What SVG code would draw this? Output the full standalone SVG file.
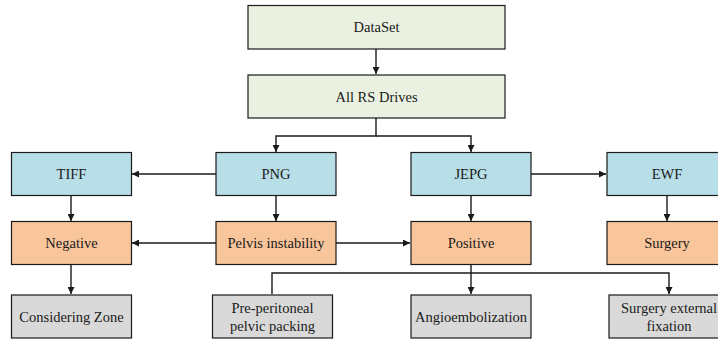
<svg xmlns="http://www.w3.org/2000/svg" width="718" height="341" viewBox="0 0 718 341">
<style>
.b{stroke:#1a1a1a;stroke-width:1.2}
.g{fill:#eaf1e0}.bl{fill:#b8dee8}.o{fill:#f9c69c}.gr{fill:#d9d9d9}
text{font-family:'Liberation Serif','Times New Roman','DejaVu Serif',serif;font-size:14.5px;fill:#1a1a1a;text-anchor:middle;dominant-baseline:central}
.c{fill:none;stroke:#1a1a1a;stroke-width:1.4}
</style>
<defs>
<marker id="a" viewBox="0 0 10 10" refX="10" refY="5" markerWidth="7" markerHeight="7" markerUnits="userSpaceOnUse" orient="auto">
<path d="M0,0L10,5L0,10z" fill="#1a1a1a"/>
</marker>
</defs>
<rect width="718" height="341" fill="#fff"/>
<g id="connectors">
<path class="c" d="M376,49V74" marker-end="url(#a)"/>
<path class="c" d="M376,118V136H276V152" marker-end="url(#a)"/>
<path class="c" d="M376,136H471V152" marker-end="url(#a)"/>
<path class="c" d="M216,174H132" marker-end="url(#a)"/>
<path class="c" d="M531,174H606" marker-end="url(#a)"/>
<path class="c" d="M71,195V221" marker-end="url(#a)"/>
<path class="c" d="M276,195V221" marker-end="url(#a)"/>
<path class="c" d="M471,195V221" marker-end="url(#a)"/>
<path class="c" d="M667,195V221" marker-end="url(#a)"/>
<path class="c" d="M216,243H132" marker-end="url(#a)"/>
<path class="c" d="M336,243H410" marker-end="url(#a)"/>
<path class="c" d="M71,264V294" marker-end="url(#a)"/>
<path class="c" d="M471,264V294" marker-end="url(#a)"/>
<path class="c" d="M272,294V273H669V294" marker-end="url(#a)"/>
</g>
<g font-family="Liberation Serif, serif">
<g id="dataset"><rect class="b g" x="248" y="5.5" width="257" height="43.5"/><text x="376.5" y="27">DataSet</text></g>
<g id="drives"><rect class="b g" x="248" y="75" width="257" height="43"/><text x="376.5" y="96.5">All RS Drives</text></g>
<g id="tiff"><rect class="b bl" x="11.5" y="152.5" width="120" height="43"/><text x="71.5" y="174">TIFF</text></g>
<g id="png"><rect class="b bl" x="216" y="152.5" width="120" height="43"/><text x="276" y="174">PNG</text></g>
<g id="jepg"><rect class="b bl" x="411" y="152.5" width="120" height="43"/><text x="471" y="174">JEPG</text></g>
<g id="ewf"><rect class="b bl" x="607" y="152.5" width="120" height="43"/><text x="667" y="174">EWF</text></g>
<g id="negative"><rect class="b o" x="11.5" y="221.5" width="120" height="43"/><text x="71.5" y="243">Negative</text></g>
<g id="pelvis"><rect class="b o" x="216" y="221.5" width="120" height="43"/><text x="276" y="243">Pelvis instability</text></g>
<g id="positive"><rect class="b o" x="411" y="221.5" width="120" height="43"/><text x="471" y="243">Positive</text></g>
<g id="surgery"><rect class="b o" x="607" y="221.5" width="120" height="43"/><text x="667" y="243">Surgery</text></g>
<g id="considering"><rect class="b gr" x="11.5" y="295" width="120" height="43"/><text x="71.5" y="316.5">Considering Zone</text></g>
<g id="prep"><rect class="b gr" x="212.5" y="295" width="120" height="43"/><text x="272.5" y="307.5">Pre-peritoneal</text><text x="272.5" y="325.5">pelvic packing</text></g>
<g id="angio"><rect class="b gr" x="411" y="295" width="120" height="43"/><text x="471" y="316.5">Angioembolization</text></g>
<g id="sef"><rect class="b gr" x="609" y="295" width="120" height="43"/><text x="669" y="307.5">Surgery external</text><text x="669" y="325.5">fixation</text></g>
</g>
</svg>
